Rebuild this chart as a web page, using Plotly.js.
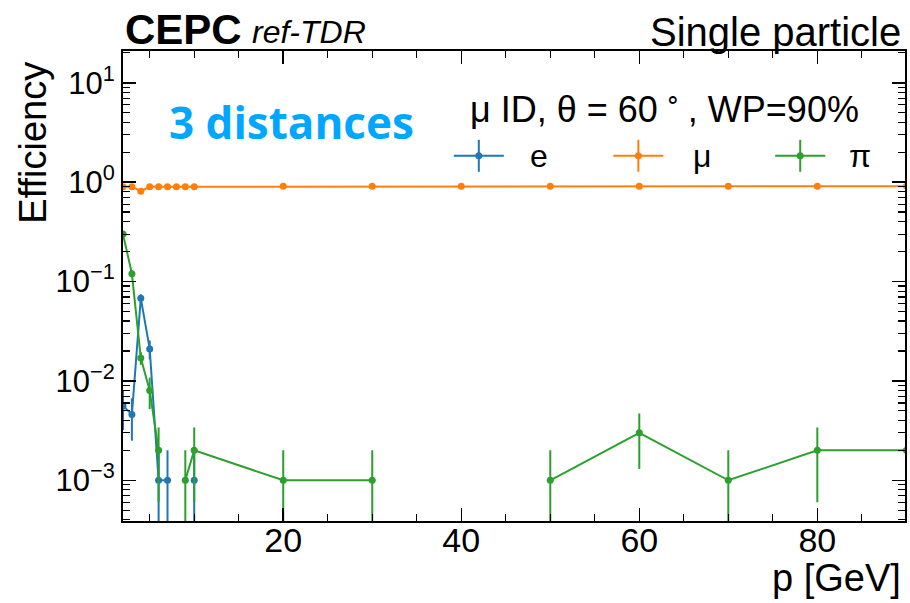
<!DOCTYPE html>
<html>
<head>
<meta charset="utf-8">
<script src="https://cdn.plot.ly/plotly-3.0.1.min.js"></script>
<style>
  html, body { margin: 0; padding: 0; background: #ffffff; }
  #chart { width: 910px; height: 603px; }
</style>
</head>
<body>
<div id="chart"></div>
<script>
// ---- data ----
const momentum = [2, 3, 4, 5, 6, 7, 8, 9, 10, 20, 30, 40, 50, 60, 70, 80, 90];

const effElectron = [0.0056, 0.0046, 0.068, 0.021, 0.001, 0.001, null, null, 0.001,
                     null, null, null, null, null, null, null, null];
const errElectron = [0.0024, 0.0021, 0.0065, 0.0045, 0.001, 0.001, null, null, 0.001,
                     null, null, null, null, null, null, null, null];

const effMuon = [0.9, 0.9, 0.81, 0.9, 0.9, 0.9, 0.9, 0.9, 0.9,
                 0.91, 0.91, 0.91, 0.91, 0.91, 0.91, 0.91, 0.91];
const errMuon = [0.009, 0.009, 0.012, 0.009, 0.009, 0.009, 0.009, 0.009, 0.009,
                 0.009, 0.009, 0.009, 0.009, 0.009, 0.009, 0.009, 0.009];

const effPion = [0.30, 0.12, 0.017, 0.008, 0.002, null, null, 0.001, 0.002,
                 0.001, 0.001, null, 0.001, 0.003, 0.001, 0.002, 0.002];
const errPion = [0.0145, 0.01, 0.0025, 0.0028, 0.0014, null, null, 0.001, 0.0014,
                 0.001, 0.001, null, 0.001, 0.0017, 0.001, 0.0014, 0.0014];

const seriesNames = ['e', 'μ', 'π'];
const seriesColors = ['#1f77b4', '#ff7f0e', '#2ca02c'];

const xTickVals = [20, 40, 60, 80];
const xTickText = ['20', '40', '60', '80'];
const yTickVals = [0.001, 0.01, 0.1, 1, 10];
const yTickText = ['10<sup>−3</sup>', '10<sup>−2</sup>', '10<sup>−1</sup>', '10<sup>0</sup>', '10<sup>1</sup>'];

// ---- build traces ----
const effs = [effElectron, effMuon, effPion];
const errs = [errElectron, errMuon, errPion];
const traces = effs.map((eff, i) => ({
  type: 'scatter',
  mode: 'lines+markers',
  name: seriesNames[i],
  x: momentum,
  y: eff,
  connectgaps: false,
  line: { color: seriesColors[i], width: 2 },
  marker: { color: seriesColors[i], size: 7, symbol: 'circle' },
  error_y: { type: 'data', array: errs[i], visible: true, color: seriesColors[i], thickness: 2, width: 0 },
  showlegend: false,
  cliponaxis: true
}));

// minor log ticks
const yMinor = [];
for (let d = -4; d <= 1; d++) {
  for (let k = 2; k <= 9; k++) yMinor.push(k * Math.pow(10, d));
}

const FONT = 'Liberation Sans, Arial, sans-serif';

// custom legend (paper coordinates)
const legendX = [0.423, 0.627, 0.834];   // line start
const legendW = 0.064;
const legendY = 0.777;
const legendLabelX = [0.532, 0.740, 0.942];
const shapes = [];
const annotations = [];
seriesNames.forEach((nm, i) => {
  const c = seriesColors[i];
  const xc = legendX[i] + legendW / 2;
  shapes.push({ type: 'line', xref: 'paper', yref: 'paper', x0: legendX[i], x1: legendX[i] + legendW,
                y0: legendY, y1: legendY, line: { color: c, width: 2 } });
  shapes.push({ type: 'line', xref: 'paper', yref: 'paper', x0: xc, x1: xc,
                y0: legendY - 0.034, y1: legendY + 0.034, line: { color: c, width: 2 } });
  shapes.push({ type: 'circle', xref: 'paper', yref: 'paper', xsizemode: 'pixel', ysizemode: 'pixel',
                xanchor: xc, yanchor: legendY, x0: -3.5, x1: 3.5, y0: -3.5, y1: 3.5,
                fillcolor: c, line: { color: c, width: 0 } });
  annotations.push({ xref: 'paper', yref: 'paper', x: legendLabelX[i], y: legendY, xanchor: 'center', yanchor: 'middle',
                     text: nm, showarrow: false, font: { family: FONT, size: 32, color: '#000' } });
});

annotations.push(
  { xref: 'paper', yref: 'paper', x: 0.0, y: 1.045, xanchor: 'left', yanchor: 'middle',
    text: '<b>CEPC</b>', showarrow: false, font: { family: FONT, size: 42, color: '#000' } },
  { xref: 'paper', yref: 'paper', x: 0.163, y: 1.040, xanchor: 'left', yanchor: 'middle',
    text: '<i>ref-TDR</i>', showarrow: false, font: { family: FONT, size: 32, color: '#000' } },
  { xref: 'paper', yref: 'paper', x: 0.997, y: 1.040, xanchor: 'right', yanchor: 'middle',
    text: 'Single particle', showarrow: false, font: { family: FONT, size: 40, color: '#000' } },
  { xref: 'paper', yref: 'paper', x: -0.115, y: 0.805, xanchor: 'center', yanchor: 'middle', textangle: -90,
    text: 'Efficiency', showarrow: false, font: { family: FONT, size: 38, color: '#000' } },
  { xref: 'paper', yref: 'paper', x: 0.997, y: -0.121, xanchor: 'right', yanchor: 'middle',
    text: 'p [GeV]', showarrow: false, font: { family: FONT, size: 38, color: '#000' } },
  { xref: 'paper', yref: 'paper', x: 0.215, y: 0.849, xanchor: 'center', yanchor: 'middle',
    text: '<b>3 distances</b>', showarrow: false, font: { family: 'Open Sans, sans-serif', size: 44, color: '#00a6ff' } },
  { xref: 'paper', yref: 'paper', x: 0.693, y: 0.881, xanchor: 'center', yanchor: 'middle',
    text: 'μ ID, θ = 60<sup> ∘ </sup>, WP=90%', showarrow: false, font: { family: FONT, size: 36, color: '#000' } }
);

const layout = {
  width: 910, height: 603,
  margin: { l: 123, r: 5, t: 51, b: 82, pad: 0 },
  paper_bgcolor: '#ffffff', plot_bgcolor: '#ffffff',
  font: { family: FONT, color: '#000' },
  xaxis: {
    range: [2, 89.85], tickmode: 'array', tickvals: xTickVals, ticktext: xTickText,
    ticks: 'inside', ticklen: 13, tickwidth: 1.5, tickcolor: '#000',
    ticklabelstandoff: -12,
    showline: true, linecolor: '#000', linewidth: 2, mirror: 'allticks',
    showgrid: false, zeroline: false,
    tickfont: { family: FONT, size: 34, color: '#000' },
    minor: { tickmode: 'linear', tick0: 0, dtick: 5, ticks: 'inside', ticklen: 7, tickwidth: 1.2, tickcolor: '#000', showgrid: false }
  },
  yaxis: {
    type: 'log', range: [-3.41, 1.32], tickmode: 'array', tickvals: yTickVals, ticktext: yTickText,
    ticks: 'inside', ticklen: 13, tickwidth: 1.5, tickcolor: '#000',
    showline: true, linecolor: '#000', linewidth: 2, mirror: 'allticks',
    showgrid: false, zeroline: false,
    tickfont: { family: FONT, size: 31, color: '#000' },
    minor: { tickmode: 'array', tickvals: yMinor, ticks: 'inside', ticklen: 7, tickwidth: 1.2, tickcolor: '#000', showgrid: false }
  },
  shapes: shapes,
  annotations: annotations,
  showlegend: false
};

Plotly.newPlot('chart', traces, layout, { displayModeBar: false, staticPlot: true });
</script>
</body>
</html>
